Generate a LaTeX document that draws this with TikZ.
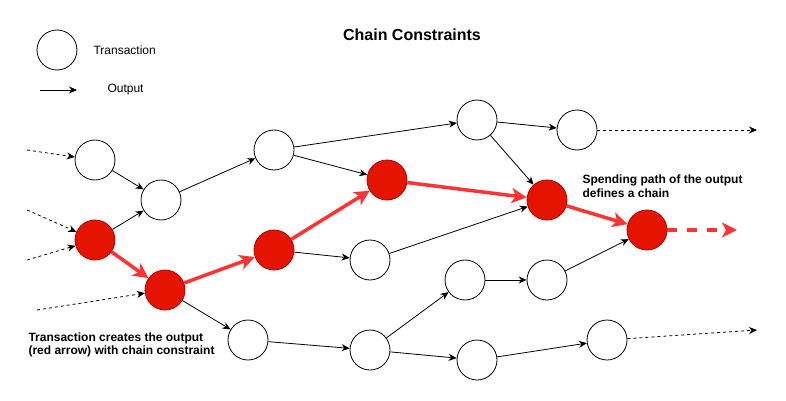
\documentclass[tikz,border=0pt]{standalone}
\usepackage{fontspec}
\setmainfont{Liberation Sans}
\usetikzlibrary{arrows.meta}
\definecolor{txred}{HTML}{E51400}
\definecolor{txredline}{HTML}{B20000}
\definecolor{chainred}{HTML}{FF3333}
\tikzset{
  tx/.style={circle,draw=black,line width=0.8pt,fill=white,minimum size=40pt,inner sep=0pt},
  rtx/.style={circle,draw=txredline,line width=0.8pt,fill=txred,minimum size=40pt,inner sep=0pt},
  outp/.style={-{Stealth[length=8pt,width=7pt]},line width=0.8pt,black},
  extern/.style={outp,dash pattern=on 3pt off 3pt},
  chain/.style={-{Stealth[length=15pt,width=15pt,inset=4pt]},line width=3.5pt,chainred},
  lbl/.style={font=\fontsize{12pt}{13.5pt}\selectfont\bfseries,align=left,anchor=west},
}
\begin{document}
\begin{tikzpicture}[x=1pt,y=-1pt]
\useasboundingbox (0,0) rectangle (786,401);
% legend
\node[tx] (leg) at (57,50) {};
\node[anchor=west,font=\fontsize{12pt}{14pt}\selectfont] (legt) at (90,50) {Transaction};
\coordinate (la) at (40,90);
\coordinate (lb) at (77,90);
\draw[outp] (la) -- (lb);
\node[anchor=west,font=\fontsize{12pt}{14pt}\selectfont] (lego) at (104,90) {Output};
\node[font=\fontsize{16pt}{19pt}\selectfont\bfseries] (title) at (412,35) {Chain Constraints};
% transactions
\node[tx]  (A) at (95,160) {};
\node[tx]  (B) at (161,200) {};
\node[rtx] (C) at (95,240) {};
\node[rtx] (D) at (165,290) {};
\node[tx]  (E) at (274,150) {};
\node[rtx] (F) at (274,250) {};
\node[rtx] (G) at (387,180) {};
\node[tx]  (H) at (370,260) {};
\node[tx]  (I) at (477,120) {};
\node[tx]  (J) at (577,130) {};
\node[rtx] (K) at (547,200) {};
\node[rtx] (L) at (647,230) {};
\node[tx]  (M) at (465,280) {};
\node[tx]  (N) at (547,280) {};
\node[tx]  (O) at (248,340) {};
\node[tx]  (P) at (370,350) {};
\node[tx]  (Q) at (477,360) {};
\node[tx]  (R) at (607,340) {};
% free ends
\coordinate (a0) at (27,150);
\coordinate (c0) at (27,210);
\coordinate (c1) at (27,260);
\coordinate (d0) at (37,310);
\coordinate (jend) at (757,130);
\coordinate (lend) at (737,230);
\coordinate (rend) at (757,330);
% external dotted
\draw[extern] (a0) -- (A);
\draw[extern] (c0) -- (C);
\draw[extern] (c1) -- (C);
\draw[extern] (d0) -- (D);
\draw[extern] (J) -- (jend);
\draw[extern] (R) -- (rend);
% outputs
\draw[outp] (A) -- (B);
\draw[outp] (C) -- (B);
\draw[outp] (B) -- (E);
\draw[outp] (E) -- (I);
\draw[outp] (E) -- (G);
\draw[outp] (F) -- (H);
\draw[outp] (H) -- (K);
\draw[outp] (I) -- (J);
\draw[outp] (I) -- (K);
\draw[outp] (D) -- (O);
\draw[outp] (O) -- (P);
\draw[outp] (P) -- (M);
\draw[outp] (P) -- (Q);
\draw[outp] (M) -- (N);
\draw[outp] (N) -- (L);
\draw[outp] (Q) -- (R);
% chain
\draw[chain] (C) -- (D);
\draw[chain] (D) -- (F);
\draw[chain] (F) -- (G);
\draw[chain] (G) -- (K);
\draw[chain] (K) -- (L);
\draw[chain,dash pattern=on 10pt off 10pt] (L) -- (lend);
% labels
\node[lbl] (s1) at (579,186) {Spending path of the output\\defines a chain};
\node[lbl] (s2) at (25,345) {Transaction creates the output\\(red arrow) with chain constraint};
\end{tikzpicture}
\end{document}
